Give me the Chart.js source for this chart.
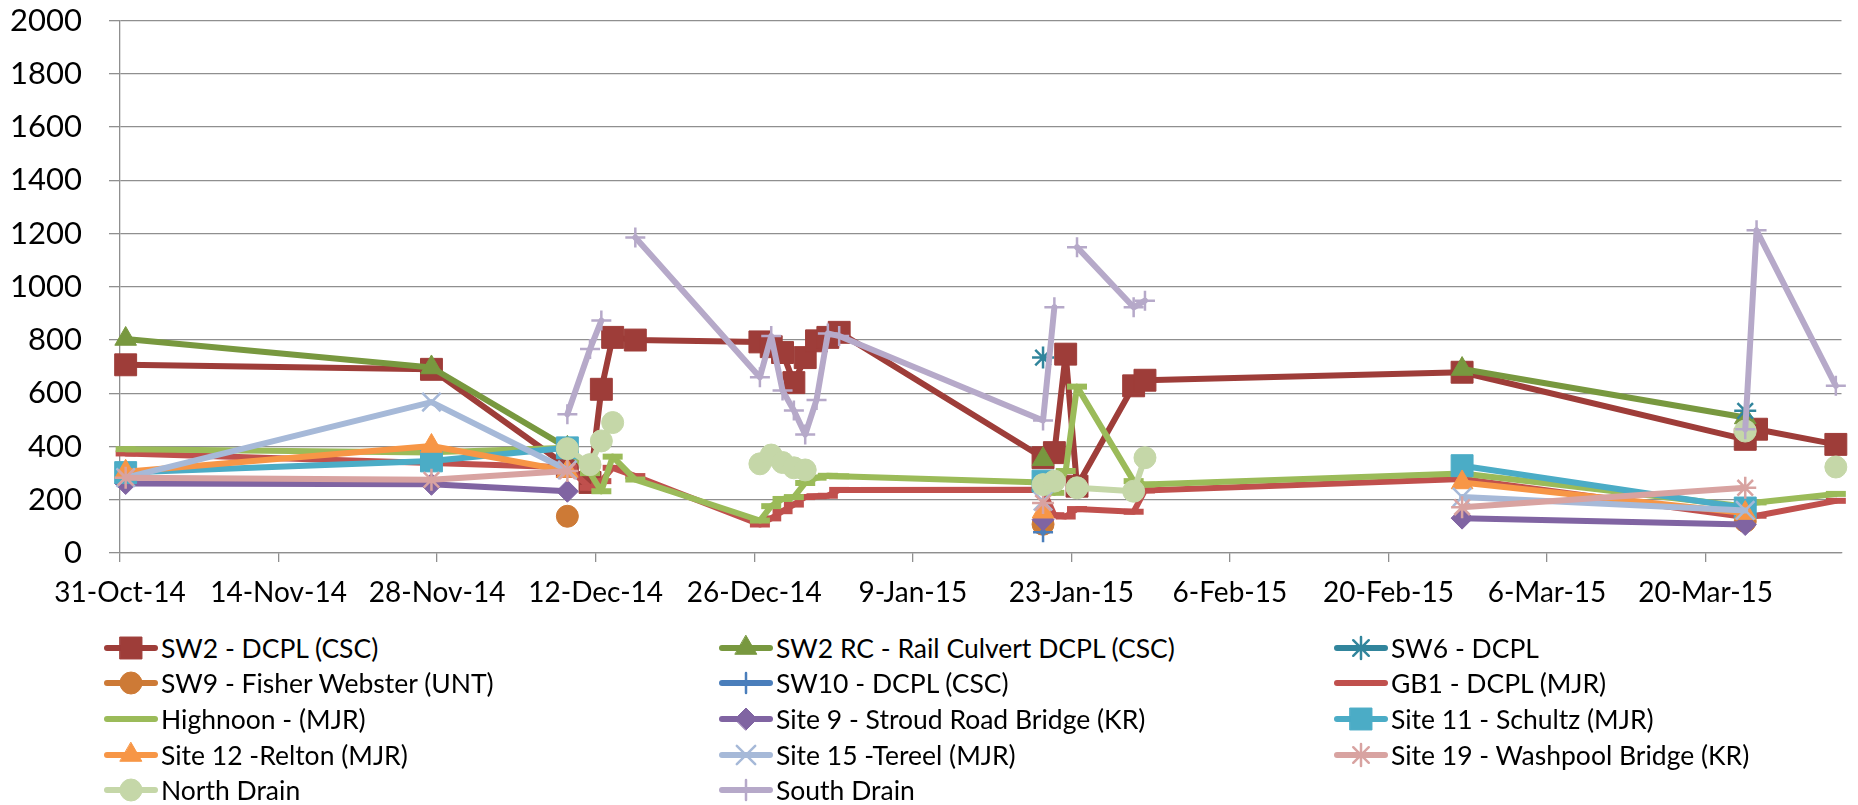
<!DOCTYPE html>
<html>
<head>
<meta charset="utf-8">
<title>Water quality samples</title>
<script src="https://cdn.jsdelivr.net/npm/chart.js@4.4.1/dist/chart.umd.min.js"></script>
<style>
  html, body { margin: 0; padding: 0; background: #fff; }
  #wrap { position: relative; width: 1858px; height: 805px; overflow: hidden; font-family: Lato, sans-serif; }
  #chartBox { position: absolute; left: 0; top: -25px; width: 1858px; height: 650px; }
  #legend { position: absolute; left: 104px; top: 630px; display: grid;
            grid-template-columns: 615px 615px 615px; grid-auto-rows: 35.6px; }
  .item { display: flex; align-items: center; font-size: 26.5px; color: #000; white-space: nowrap; }
  .item canvas { margin-right: 3px; }
</style>
</head>
<body>
<div id="wrap">
  <div id="chartBox"><canvas id="myChart" width="1858" height="650"></canvas></div>
  <div id="legend"></div>
</div>
<script>
// sample dates (shared by every series, blank = null)
const dates = [
  "2014-10-31", "2014-11-27", "2014-12-09", "2014-12-11", "2014-12-12", "2014-12-13", "2014-12-15",
  "2014-12-26", "2014-12-27", "2014-12-28", "2014-12-29", "2014-12-30", "2014-12-31", "2015-01-01",
  "2015-01-02", "2015-01-20", "2015-01-21", "2015-01-22", "2015-01-23", "2015-01-28", "2015-01-29",
  "2015-02-26", "2015-03-23", "2015-03-24", "2015-03-31"
];
const N = null;

const sw2      = [707, 690, 325, 265, 615, 810, 800, 793, 775, 753, 640, 734, 797, 810, 829, 358, 377, 747, 251, 628, 649, 679, 427, 465, 408];
const sw2rc    = [804, 697, 395, N, N, N, N, N, N, N, N, N, N, N, N, 352, N, N, N, N, N, 691, 509, N, N];
const sw6      = [N, N, N, N, N, N, N, N, N, N, N, N, N, N, N, 734, N, N, N, N, N, N, 534, N, N];
const sw9      = [N, N, 138, N, N, N, N, N, N, N, N, N, N, N, N, 108, N, N, N, N, N, N, 119, N, N];
const sw10     = [N, N, N, N, N, N, N, N, N, N, N, N, N, N, N, 78, N, N, N, N, N, N, N, N, N];
const gb1      = [374, 338, 322, 245, 270, 320, 289, 107, 130, 157, 182, 210, 213, 215, 237, 238, 142, 137, 165, 155, 235, 278, 135, 140, 196];
const highnoon = [390, 378, 395, 300, 232, 362, 276, 122, 176, 203, 210, 263, 283, 290, 288, 265, 226, 308, 625, 270, 257, 299, 175, 190, 222];
const site9    = [261, 258, 232, N, N, N, N, N, N, N, N, N, N, N, N, 125, N, N, N, N, N, 131, 107, N, N];
const site11   = [302, 346, 395, N, N, N, N, N, N, N, N, N, N, N, N, 270, N, N, N, N, N, 328, 169, N, N];
const site12   = [305, 402, 308, N, N, N, N, N, N, N, N, N, N, N, N, 155, N, N, N, N, N, 265, 150, N, N];
const site15   = [283, 567, 312, N, N, N, N, N, N, N, N, N, N, N, N, 195, N, N, N, N, N, 210, 160, N, N];
const site19   = [283, 275, 308, N, N, N, N, N, N, N, N, N, N, N, N, 188, N, N, N, N, N, 172, 245, N, N];
const northDrain = [N, N, 392, 332, 421, 490, N, 335, 368, 340, 320, 312, N, N, N, 257, 270, N, 245, 232, 358, N, 458, N, 323];
const southDrain = [N, N, 521, 766, 873, N, 1185, 660, 815, 610, 535, 445, 575, 825, 815, 498, 923, N, 1149, 923, 948, N, 465, 1212, 628];

const yTicks = { min: 0, max: 2000, step: 200 };
const xTicks = { first: "2014-10-31", stepDays: 14, lastDay: 152 };
const monthNames = ["Jan", "Feb", "Mar", "Apr", "May", "Jun", "Jul", "Aug", "Sep", "Oct", "Nov", "Dec"];

const series = [
  { label: "SW2 - DCPL (CSC)", values: sw2, color: "#9E3D39", style: "rect", r: 15.5 },
  { label: "SW2 RC - Rail Culvert DCPL (CSC)", values: sw2rc, color: "#78983F", style: "triangle", r: 12.5 },
  { label: "SW6 - DCPL", values: sw6, color: "#31859C", style: "star", r: 11, thin: true },
  { label: "SW9 - Fisher Webster (UNT)", values: sw9, color: "#CD7A36", style: "circle", r: 11 },
  { label: "SW10 - DCPL (CSC)", values: sw10, color: "#4A7EBB", style: "cross", r: 10, thin: true },
  { label: "GB1 - DCPL (MJR)", values: gb1, color: "#C0504D", style: "line", r: 10, dash: true },
  { label: "Highnoon - (MJR)", values: highnoon, color: "#9BBB59", style: "line", r: 10, dash: true },
  { label: "Site 9 - Stroud Road Bridge (KR)", values: site9, color: "#8064A2", style: "rectRot", r: 11 },
  { label: "Site 11 - Schultz (MJR)", values: site11, color: "#4BACC6", style: "rect", r: 15.5 },
  { label: "Site 12 -Relton (MJR)", values: site12, color: "#F79646", style: "triangle", r: 12.5 },
  { label: "Site 15 -Tereel (MJR)", values: site15, color: "#A6B9D8", style: "crossRot", r: 13, thin: true },
  { label: "Site 19 - Washpool Bridge (KR)", values: site19, color: "#D8A3A1", style: "star", r: 11, thin: true },
  { label: "North Drain", values: northDrain, color: "#C5D7A8", style: "circle", r: 11 },
  { label: "South Drain", values: southDrain, color: "#B6A9C9", style: "cross", r: 10, thin: true }
];

function dayOf(s) {
  const p = s.split("-").map(Number);
  const f = xTicks.first.split("-").map(Number);
  return (Date.UTC(p[0], p[1] - 1, p[2]) - Date.UTC(f[0], f[1] - 1, f[2])) / 86400000;
}

function dateLabel(day) {
  const f = xTicks.first.split("-").map(Number);
  const dt = new Date(Date.UTC(f[0], f[1] - 1, f[2]) + day * 86400000);
  return dt.getUTCDate() + "-" + monthNames[dt.getUTCMonth()] + "-" + String(dt.getUTCFullYear()).slice(2);
}

function markerWidth(s) {
  if (s.dash) return 6;
  if (s.thin) return 2.5;
  return 1;
}

const datasets = series.map((s, i) => ({
  label: s.label,
  data: dates.map((d, k) => ({ x: dayOf(d) + 0.5, y: s.values[k] })),
  borderColor: s.color,
  backgroundColor: s.color,
  borderWidth: 6,
  borderJoinStyle: "round",
  borderCapStyle: "round",
  pointStyle: s.style,
  pointRadius: s.r,
  pointHoverRadius: s.r,
  pointBackgroundColor: s.color,
  pointBorderColor: s.color,
  pointBorderWidth: markerWidth(s),
  spanGaps: false,
  tension: 0,
  clip: false,
  order: series.length - i
}));

const gridColor = "#8f8f8f";

const ctx = document.getElementById("myChart").getContext("2d");
const myChart = new Chart(ctx, {
  type: "line",
  data: { datasets: datasets },
  options: {
    responsive: false,
    devicePixelRatio: 1,
    animation: false,
    layout: { padding: { top: 0, right: 6, left: 0, bottom: 0 } },
    plugins: {
      legend: { display: false },
      tooltip: { enabled: false }
    },
    scales: {
      x: {
        type: "linear",
        min: 0,
        max: xTicks.lastDay,
        grid: { drawOnChartArea: false, drawTicks: true, tickLength: 9, color: gridColor, lineWidth: 1.3 },
        border: { display: true, color: gridColor, width: 1.3 },
        ticks: {
          stepSize: xTicks.stepDays,
          includeBounds: false,
          autoSkip: false,
          maxRotation: 0,
          padding: 14,
          color: "#000",
          font: { family: "Lato", size: 28 },
          callback: (v) => dateLabel(v)
        },
        afterFit: (scale) => { scale.height = 72; }
      },
      y: {
        min: yTicks.min,
        max: yTicks.max,
        grid: { color: gridColor, lineWidth: 1.3, tickLength: 11 },
        border: { display: true, color: gridColor, width: 1.3 },
        ticks: {
          stepSize: yTicks.step,
          padding: 27,
          color: "#000",
          font: { family: "Lato", size: 31 },
          callback: (v) => String(v)
        },
        afterFit: (scale) => { scale.width = 120; }
      }
    }
  }
});

// legend in three columns, like the original
const legend = document.getElementById("legend");
series.forEach((s) => {
  const item = document.createElement("div");
  item.className = "item";
  const c = document.createElement("canvas");
  c.width = 54;
  c.height = 34;
  const g = c.getContext("2d");
  g.strokeStyle = s.color;
  g.fillStyle = s.color;
  g.lineCap = "round";
  g.lineWidth = 6;
  g.beginPath();
  g.moveTo(3, 17);
  g.lineTo(51, 17);
  g.stroke();
  g.lineWidth = markerWidth(s);
  if (Chart.helpers && Chart.helpers.drawPoint) {
    Chart.helpers.drawPoint(g, { pointStyle: s.style, radius: s.r, rotation: 0, borderWidth: markerWidth(s) }, 27, 17);
  }
  item.appendChild(c);
  const t = document.createElement("span");
  t.textContent = s.label;
  item.appendChild(t);
  legend.appendChild(item);
});
</script>
</body>
</html>
